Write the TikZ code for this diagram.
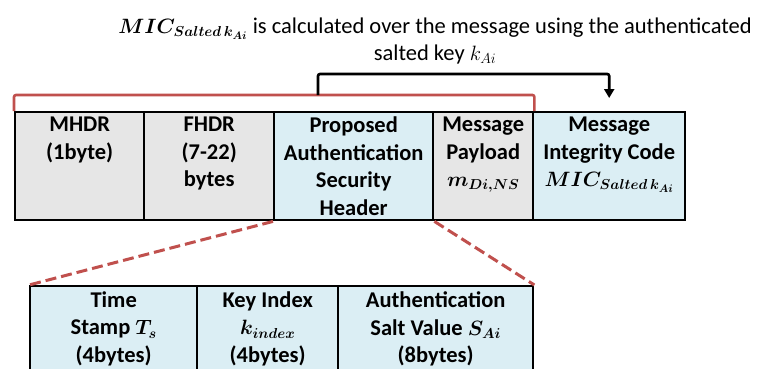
\documentclass[tikz,border=0pt]{standalone}
\usepackage{amsmath}
\usepackage{bm}
\usepackage{fontspec}
\setmainfont{Carlito}
\usetikzlibrary{arrows.meta}

\definecolor{hdrgray}{HTML}{E6E6E6}
\definecolor{hdrblue}{HTML}{DBEEF4}
\definecolor{zoomred}{HTML}{C0504D}

\tikzset{
  field/.style={draw=black, line width=2.4pt, anchor=north west, inner sep=0pt},
  grayfield/.style={field, fill=hdrgray},
  bluefield/.style={field, fill=hdrblue},
  fieldtext/.style={anchor=north, align=center, inner sep=0pt, yshift=-6pt,
    font=\bfseries\fontsize{22.5}{27.5}\selectfont},
  zoomline/.style={draw=zoomred, line width=3pt, dash pattern=on 11pt off 5pt},
  covers/.style={draw=zoomred, line width=2.6pt, rounded corners=2pt},
  micarrow/.style={draw=black, line width=2.6pt, rounded corners=2pt,
    -{Triangle[width=10pt,length=9pt]}},
  titletext/.style={align=center, inner sep=0pt,
    font=\fontsize{22.5}{26.5}\selectfont}
}

\begin{document}
\begin{tikzpicture}[x=1pt,y=-1pt]
\useasboundingbox (0,0) rectangle (758,368);
\clip (0,0) rectangle (758,368);

% frame fields
\node[grayfield, minimum width=129pt, minimum height=108pt] (mhdr) at (14,111) {};
\node[grayfield, minimum width=130pt, minimum height=108pt] (fhdr) at (143,111) {};
\node[bluefield, minimum width=159pt, minimum height=108pt] (pash) at (273,111) {};
\node[grayfield, minimum width=100pt, minimum height=108pt] (pay) at (432,111) {};
\node[bluefield, minimum width=152pt, minimum height=108pt] (mic) at (532,111) {};

\node[fieldtext] (mhdrt) at (mhdr.north) {MHDR\\(1byte)};
\node[fieldtext] (fhdrt) at (fhdr.north) {FHDR\\(7-22)\\bytes};
\node[fieldtext] (pasht) at (pash.north) {Proposed\\Authentication\\Security\\Header};
\node[fieldtext] (payt) at (pay.north) {Message\\Payload\\$\bm{m_{Di,NS}}$};
\node[fieldtext] (mict) at (mic.north) {Message\\Integrity Code\\$\bm{MIC_{Salted\,k_{Ai}}}$};

% expanded security header
\node[bluefield, minimum width=167pt, minimum height=100pt] (ts) at (29,285) {};
\node[bluefield, minimum width=141pt, minimum height=100pt] (kidx) at (196,285) {};
\node[bluefield, minimum width=195pt, minimum height=100pt] (salt) at (337,285) {};

\node[fieldtext, yshift=-0.5pt] (tst) at (ts.north) {Time\\Stamp $\bm{T_s}$\\(4bytes)};
\node[fieldtext, yshift=-0.5pt] (kidxt) at (kidx.north) {Key Index\\$\bm{k_{index}}$\\(4bytes)};
\node[fieldtext, yshift=-0.5pt] (saltt) at (salt.north) {Authentication\\Salt Value $\bm{S_{Ai}}$\\(8bytes)};

\draw[zoomline] (pash.south west) -- (ts.north west);
\draw[zoomline] (pash.south east) -- (salt.north east);

% span covered by the integrity code
\draw[covers] (mhdr.north west) -- ++(0,-16) -| (pay.north east);

\coordinate (micsrc) at (318,95);
\draw[micarrow] (micsrc) -- (318,74) -| ([yshift=13pt]mic.north);

% caption
\node[titletext] (title) at (435,41)
  {$\bm{MIC_{Salted\,k_{Ai}}}$ is calculated over the message using the authenticated\\
   salted key $k_{Ai}$};
\end{tikzpicture}
\end{document}
